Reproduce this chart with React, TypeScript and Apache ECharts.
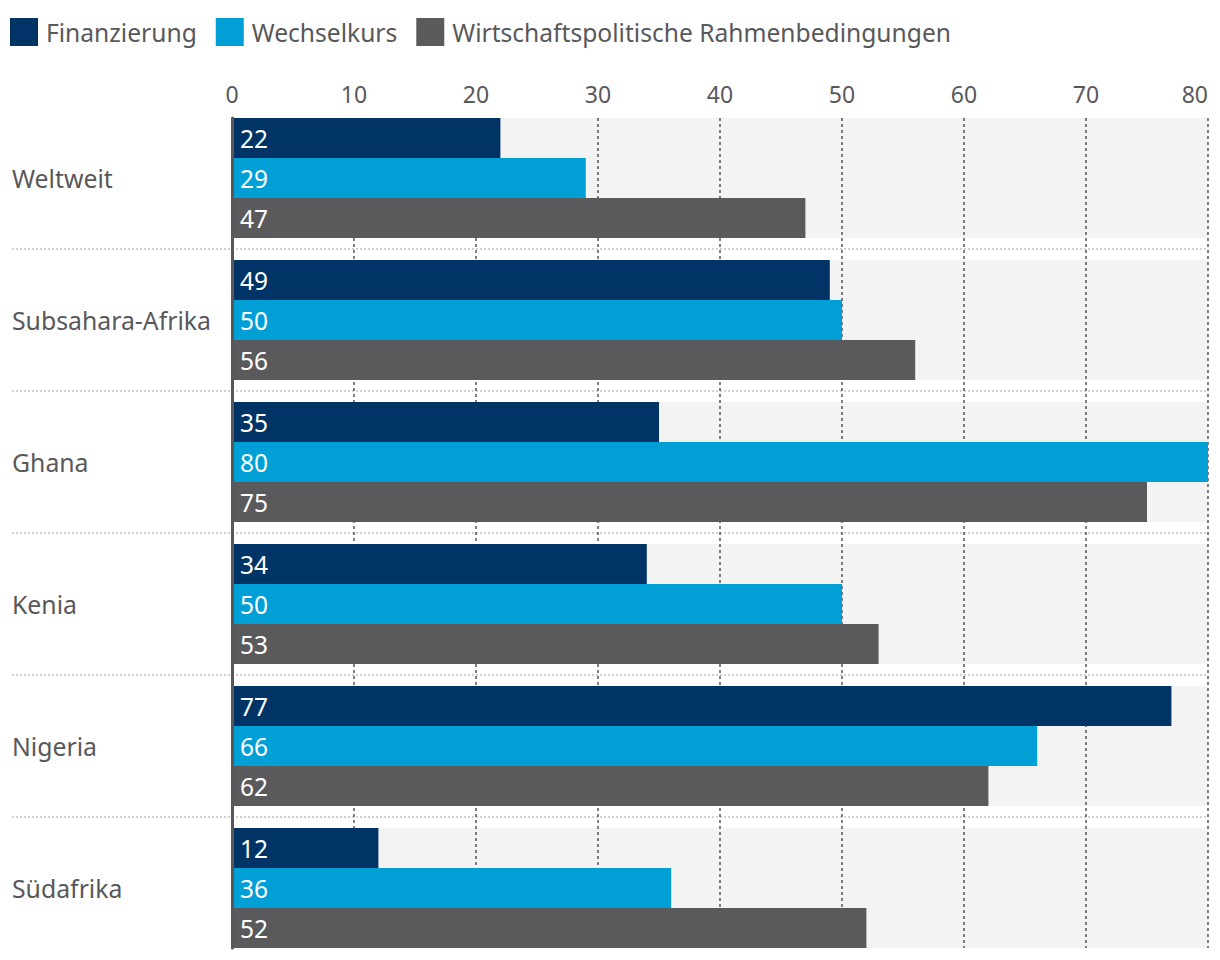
import React, { useEffect, useRef } from "react";
import * as echarts from "echarts";

const categories = ["Weltweit", "Subsahara-Afrika", "Ghana", "Kenia", "Nigeria", "Südafrika"];
const seriesNames = ["Finanzierung", "Wechselkurs", "Wirtschaftspolitische Rahmenbedingungen"];
const finanzierung = [22, 49, 35, 34, 77, 12];
const wechselkurs = [29, 50, 80, 50, 66, 36];
const rahmenbedingungen = [47, 56, 75, 53, 62, 52];
const seriesValues = [finanzierung, wechselkurs, rahmenbedingungen];
const seriesColors = ["#003466", "#009fd6", "#5a5a5d"];
const axisMin = 0;
const axisMax = 80;
const axisInterval = 10;

const FONT = '"Noto Sans", sans-serif';
const TEXT = "#58585a";
const SEP = "#d0d0d0";

export default function App() {
  const ref = useRef<HTMLDivElement>(null);
  useEffect(() => {
    if (!ref.current) return;
    const chart = echarts.init(ref.current, undefined, { renderer: "svg" });
    const sepColors = categories.map((_, i) => (i < categories.length - 1 ? SEP : "rgba(0,0,0,0)"));
    const sepLine = {
      show: true,
      interval: (i: number) => i > 0,
      lineStyle: { color: sepColors, width: 2, type: [2, 2] as number[] },
    };
    const option: any = {
      animation: false,
      textStyle: { fontFamily: FONT },
      legend: {
        left: 10,
        top: 18,
        padding: 0,
        itemWidth: 28,
        itemHeight: 28,
        itemGap: 19,
        icon: "rect",
        selectedMode: false,
        data: seriesNames,
        textStyle: {
          fontSize: 24.6,
          lineHeight: 28,
          color: TEXT,
          fontFamily: FONT,
          padding: [0, 0, 0, 3],
        },
      },
      grid: [
        { left: 232, right: 12, top: 118, bottom: 12 },
        { left: 232, right: 12, top: 107, bottom: 1 },
        { left: 12, right: 988, top: 107, bottom: 1 },
      ],
      xAxis: [
        {
          gridIndex: 0,
          type: "value",
          position: "top",
          min: axisMin,
          max: axisMax,
          interval: axisInterval,
          z: 1,
          axisLine: { show: false },
          axisTick: { show: false },
          axisLabel: { fontSize: 23, color: TEXT, margin: 13, fontFamily: FONT, alignMaxLabel: "right" },
          splitLine: { show: true, lineStyle: { color: "#555558", width: 1.5, type: [3, 3] } },
        },
        { gridIndex: 1, type: "value", min: axisMin, max: axisMax, show: false },
        { gridIndex: 2, type: "value", min: 0, max: 1, show: false },
      ],
      yAxis: [
        {
          gridIndex: 0,
          type: "value",
          min: 0,
          max: 1,
          z: 3,
          axisLine: { show: true, onZero: false, lineStyle: { color: "#58585a", width: 3 } },
          axisTick: { show: false },
          axisLabel: { show: false },
          splitLine: { show: false },
        },
        {
          gridIndex: 1,
          type: "category",
          data: categories,
          inverse: true,
          axisLine: { show: false },
          axisTick: { show: false },
          axisLabel: { margin: 220, align: "left", fontSize: 24.8, color: TEXT, fontFamily: FONT },
          splitLine: sepLine,
        },
        { gridIndex: 1, type: "category", data: categories, inverse: true, show: false },
        {
          gridIndex: 2,
          type: "category",
          data: categories,
          inverse: true,
          axisLine: { show: false },
          axisTick: { show: false },
          axisLabel: { show: false },
          splitLine: sepLine,
        },
      ],
      series: [
        {
          type: "bar",
          name: "bg",
          data: finanzierung,
          xAxisIndex: 1,
          yAxisIndex: 2,
          barWidth: 120,
          z: 0,
          silent: true,
          itemStyle: { color: "rgba(0,0,0,0)" },
          showBackground: true,
          backgroundStyle: { color: "#f3f3f3" },
        },
        ...seriesNames.map((name, i) => ({
          type: "bar",
          name,
          data: seriesValues[i],
          xAxisIndex: 1,
          yAxisIndex: 1,
          barWidth: 40,
          barGap: "0%",
          z: 2,
          silent: true,
          itemStyle: { color: seriesColors[i] },
          label: {
            show: true,
            position: "insideLeft",
            distance: 8,
            color: "#ffffff",
            fontSize: 24.5,
            fontFamily: FONT,
          },
        })),
      ],
    };
    chart.setOption(option);
    return () => chart.dispose();
  }, []);
  return (
    <div
      ref={ref}
      style={{ position: "absolute", left: 0, top: 0, width: 1220, height: 960, background: "#fff" }}
    />
  );
}
